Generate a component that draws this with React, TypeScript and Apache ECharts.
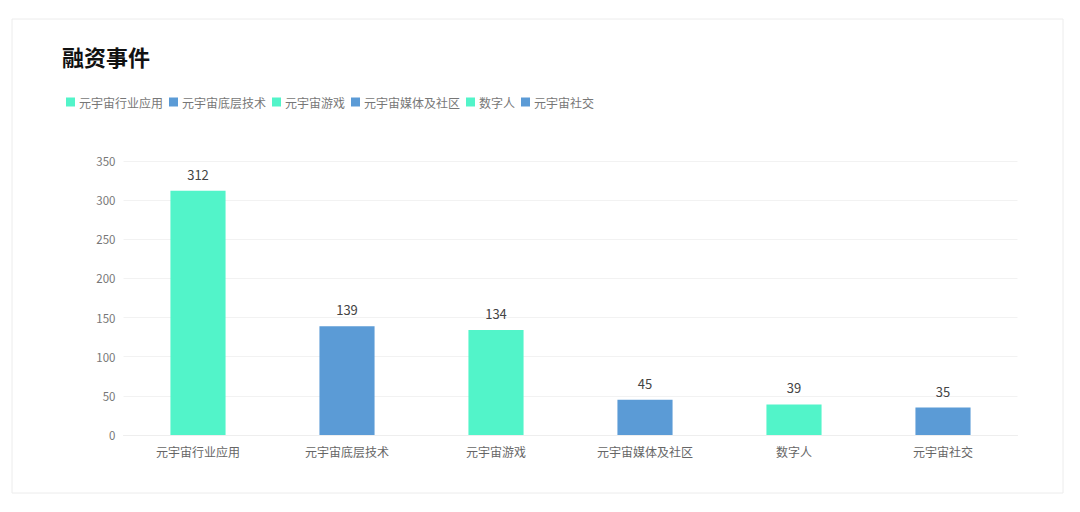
import React, { useEffect, useRef } from "react";
import * as echarts from "echarts";

const categories = ["元宇宙行业应用", "元宇宙底层技术", "元宇宙游戏", "元宇宙媒体及社区", "数字人", "元宇宙社交"];
const values = [312, 139, 134, 45, 39, 35];
const colors = ["#52F4C9", "#5B9BD6", "#52F4C9", "#5B9BD6", "#52F4C9", "#5B9BD6"];
const titleText = "融资事件";

const FONT = "'Noto Sans CJK SC', 'Microsoft YaHei', sans-serif";

export default function App() {
  const ref = useRef<HTMLDivElement>(null);
  useEffect(() => {
    if (!ref.current) return;
    const chart = echarts.init(ref.current, null, { renderer: "svg" });
    const series = categories.map((name, i) => ({
      name,
      type: "bar",
      stack: "total",
      barWidth: "37%",
      itemStyle: { color: colors[i] },
      label: {
        show: true,
        position: "top",
        color: "#444",
        fontSize: 13,
        fontFamily: FONT,
        distance: 10,
      },
      data: categories.map((_, j) => (j === i ? values[i] : null)),
    }));
    chart.setOption({
      animation: false,
      backgroundColor: "#fff",
      textStyle: { fontFamily: FONT },
      graphic: [
        {
          type: "rect",
          shape: { x: 12, y: 19, width: 1051, height: 474 },
          style: { fill: "#fff", stroke: "#ececec", lineWidth: 1 },
          z: -10,
        },
      ],
      title: {
        text: titleText,
        left: 57,
        top: 40,
        textStyle: { fontSize: 22, fontWeight: "bold", color: "#111", fontFamily: FONT },
      },
      legend: {
        left: 61,
        top: 91,
        icon: "rect",
        itemWidth: 9,
        itemHeight: 9,
        itemGap: 6,
        textStyle: { fontSize: 12, color: "#777", fontFamily: FONT, padding: [0, 0, 0, -1] },
        data: categories,
      },
      grid: { left: 123.5, right: 62.5, top: 161, bottom: 77 },
      xAxis: {
        type: "category",
        data: categories,
        axisLine: { lineStyle: { color: "#eeeeee" } },
        axisTick: { show: false },
        axisLabel: { color: "#666", fontSize: 12, margin: 10, fontFamily: FONT },
      },
      yAxis: {
        type: "value",
        min: 0,
        max: 350,
        interval: 50,
        axisLine: { show: false },
        axisTick: { show: false },
        axisLabel: { color: "#777", fontSize: 11.5, margin: 8, fontFamily: FONT },
        splitLine: { lineStyle: { color: "#f2f2f2" } },
      },
      series,
    });
    return () => chart.dispose();
  }, []);
  return (
    <div style={{ position: "absolute", left: 0, top: 0, width: 1080, height: 512, background: "#fff" }}>
      <div ref={ref} style={{ width: 1080, height: 512 }} />
    </div>
  );
}
